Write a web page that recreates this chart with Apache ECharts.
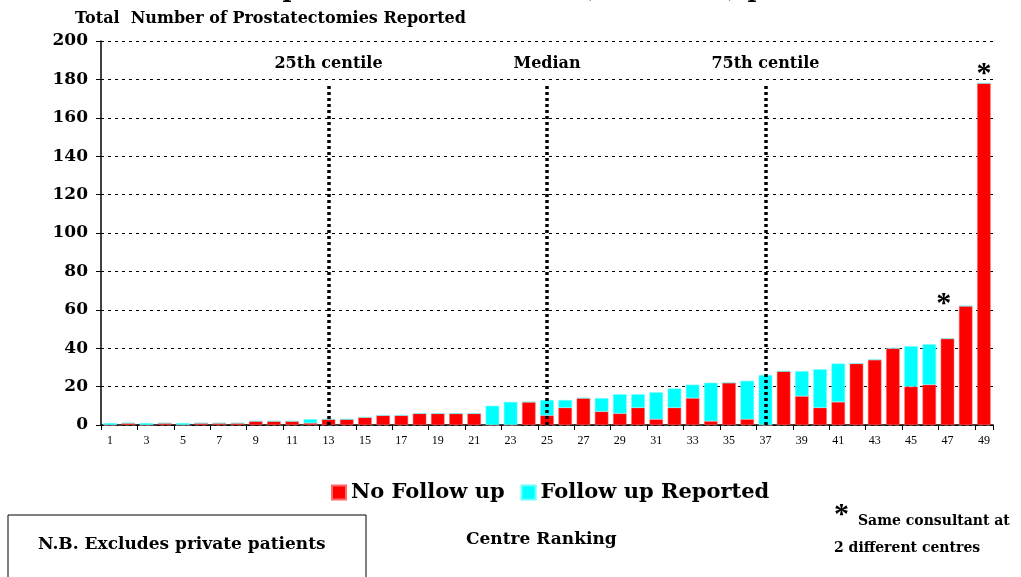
<!DOCTYPE html>
<html>
<head>
<meta charset="utf-8">
<script src="https://cdn.jsdelivr.net/npm/echarts@6/dist/echarts.min.js"></script>
<style>
  html, body { margin: 0; padding: 0; background: #fff; }
  #chart { width: 1021px; height: 577px; }
</style>
</head>
<body>
<div id="chart"></div>
<script>
// centre ranking 1..49
var centres = [];
for (var i = 1; i <= 49; i++) centres.push(String(i));

// red part of each bar
var noFollowUp = [0, 1, 0, 1, 0, 1, 1, 1, 2, 2, 2, 1, 3, 3, 4, 5, 5, 6, 6, 6,
  6, 0, 0, 12, 5, 9, 14, 7, 6, 9, 3, 9, 14, 2, 22, 3, 0, 28, 15, 9,
  12, 32, 34, 40, 20, 21, 45, 62, 178];
// cyan part stacked on top
var followUpReported = [1, 0, 1, 0, 1, 0, 0, 0, 0, 0, 0, 2, 0, 0, 0, 0, 0, 0, 0, 0,
  0, 10, 12, 0, 8, 4, 0, 7, 10, 7, 14, 10, 7, 20, 0, 20, 26, 0, 13, 20,
  20, 0, 0, 0, 21, 21, 0, 0, 0];

var centiles = [['13', '25th centile'], ['25', 'Median'], ['37', '75th centile']];
var starredCentres = ['48', '49'];

var serif = '"Liberation Serif", "Times New Roman", serif';
// the original text is set wide, DejaVu Serif gets closer
var wide = '"DejaVu Serif", serif';

let chart = echarts.init(document.getElementById('chart'));

let redData = noFollowUp.map(function (v, i) {
    var c = centres[i];
    if (starredCentres.indexOf(c) < 0) return v;
    return {
        value: v,
        label: {
            show: true,
            position: 'top',
            formatter: '*',
            fontFamily: serif,
            fontWeight: 'bold',
            fontSize: 30,
            color: '#000',
            distance: c === '49' ? -6 : 2,
            offset: c === '49' ? [0, 0] : [-22, 15]
        }
    };
});

let option = {
    animation: false,
    grid: { left: 101, right: 28, top: 41, bottom: 152 },
    legend: {
        left: 326,
        top: 477,
        itemWidth: 14,
        itemHeight: 14,
        itemGap: 16,
        icon: 'rect',
        textStyle: { fontFamily: wide, fontWeight: 'bold', fontSize: 21, color: '#000' },
        data: ['No Follow up', 'Follow up Reported']
    },
    xAxis: {
        type: 'category',
        data: centres,
        axisLine: { lineStyle: { color: '#000', width: 1.5 } },
        axisTick: { show: true, length: 5, lineStyle: { color: '#000' } },
        axisLabel: { interval: 1, fontFamily: serif, fontSize: 12, color: '#000', margin: 10 },
        splitLine: { show: false }
    },
    yAxis: {
        type: 'value',
        min: 0,
        max: 200,
        interval: 20,
        axisLine: { show: true, lineStyle: { color: '#000', width: 1.5 } },
        axisTick: { show: true, length: 5, lineStyle: { color: '#000' } },
        axisLabel: { fontFamily: wide, fontWeight: 'bold', fontSize: 17, color: '#000', margin: 13 },
        splitLine: { lineStyle: { color: '#000', type: [3, 4], width: 1.2 } }
    },
    series: [{
        name: 'No Follow up',
        type: 'bar',
        stack: 'total',
        barWidth: '74%',
        itemStyle: { color: '#ff0000', borderColor: '#ff6666', borderWidth: 0.5 },
        data: redData,
        markLine: {
            silent: true,
            symbol: 'none',
            lineStyle: { color: '#000', type: [3, 3], width: 3.5 },
            label: {
                show: true,
                position: 'end',
                distance: 13,
                fontFamily: wide,
                fontWeight: 'bold',
                fontSize: 16,
                color: '#000',
                formatter: function (p) { return p.data.name || ''; }
            },
            data: centiles.map(function (c) {
                return [{ coord: [c[0], 0], name: c[1] }, { coord: [c[0], 177] }];
            })
        }
    }, {
        name: 'Follow up Reported',
        type: 'bar',
        stack: 'total',
        barWidth: '74%',
        itemStyle: { color: '#00ffff', borderColor: '#66ffff', borderWidth: 0.5 },
        data: followUpReported
    }],
    graphic: [{
        type: 'text',
        left: 170,
        top: -21,
        style: { text: 'Follow up recorded in Radical (non TURP) patients', fontFamily: wide, fontWeight: 'bold', fontSize: 24, fill: '#000' }
    }, {
        type: 'text',
        left: 75,
        top: 11,
        style: { text: 'Total  Number of Prostatectomies Reported', fontFamily: wide, fontWeight: 'bold', fontSize: 16, fill: '#000' }
    }, {
        type: 'rect',
        shape: { x: 8, y: 515, width: 358, height: 80 },
        style: { fill: 'none', stroke: '#000', lineWidth: 1 }
    }, {
        type: 'text',
        left: 38,
        top: 536,
        style: { text: 'N.B. Excludes private patients', fontFamily: wide, fontWeight: 'bold', fontSize: 17, fill: '#000' }
    }, {
        type: 'text',
        left: 466,
        top: 531,
        style: { text: 'Centre Ranking', fontFamily: wide, fontWeight: 'bold', fontSize: 17, fill: '#000' }
    }, {
        type: 'text',
        left: 834,
        top: 500,
        style: { text: '*', fontFamily: serif, fontWeight: 'bold', fontSize: 30, fill: '#000' }
    }, {
        type: 'text',
        left: 858,
        top: 514,
        style: { text: 'Same consultant at', fontFamily: wide, fontWeight: 'bold', fontSize: 14, fill: '#000' }
    }, {
        type: 'text',
        left: 834,
        top: 541,
        style: { text: '2 different centres', fontFamily: wide, fontWeight: 'bold', fontSize: 14, fill: '#000' }
    }]
};

chart.setOption(option);
</script>
</body>
</html>
